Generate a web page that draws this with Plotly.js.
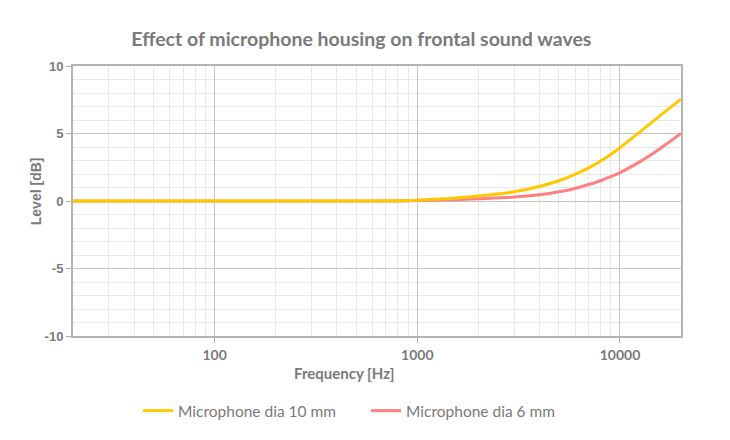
<!DOCTYPE html>
<html>
<head>
<meta charset="utf-8">
<script src="https://cdn.plot.ly/plotly-3.0.1.min.js"></script>
<style>
  html, body { margin: 0; padding: 0; background: #fff; }
  #chart { width: 730px; height: 440px; }
</style>
</head>
<body>
<div id="chart"></div>
<script>
// frequency response
var freqs = [20, 50, 100, 200, 500, 800, 1000, 1500, 2000, 3000, 4000, 5000, 6000, 7000, 8000, 9000, 10000, 12500, 16000, 20000];
var mic10 = [0, 0, 0, 0, 0, 0.01, 0.06, 0.2, 0.37, 0.68, 1.07, 1.5, 1.97, 2.45, 2.95, 3.45, 3.95, 5.1, 6.4, 7.55];
var mic6 = [0, 0, 0, 0, 0, 0, 0.03, 0.09, 0.17, 0.29, 0.46, 0.68, 0.93, 1.22, 1.5, 1.8, 2.1, 2.9, 3.95, 5.0];

var xTickVals = [100, 1000, 10000];
var xTickText = ['100', '1000', '10000'];
var yTickVals = [-10, -5, 0, 5, 10];
var yTickText = ['-10', '-5', '0', '5', '10'];

chart = document.getElementById('chart');

var grey = '#7a7a7a';

// 6 mm drawn first so the 10 mm line sits on top, legend keeps 10 mm first
Plotly.newPlot(chart, [{
    x: freqs,
    y: mic6,
    name: 'Microphone dia 6 mm',
    legendrank: 2,
    type: 'scatter',
    mode: 'lines',
    line: {color: '#ff8080', width: 3, shape: 'spline', smoothing: 0.6}
}, {
    x: freqs,
    y: mic10,
    name: 'Microphone dia 10 mm',
    legendrank: 1,
    type: 'scatter',
    mode: 'lines',
    line: {color: '#ffc800', width: 3, shape: 'spline', smoothing: 0.6}
}], {
    width: 730,
    height: 440,
    margin: {l: 73, r: 49, t: 66, b: 104},
    paper_bgcolor: '#fff',
    plot_bgcolor: '#fff',
    font: {family: 'Lato, sans-serif', color: grey},
    title: {
        text: '<b>Effect of microphone housing on frontal sound waves</b>',
        font: {family: 'Lato, sans-serif', size: 19.5, color: grey},
        x: 0.495, xanchor: 'center', y: 0.91, yanchor: 'middle'
    },
    xaxis: {
        type: 'log',
        range: [Math.log10(20), Math.log10(20000)],
        tickmode: 'array',
        tickvals: xTickVals,
        ticktext: xTickText,
        ticks: 'outside',
        ticklen: 5,
        tickcolor: '#aaa',
        tickfont: {family: 'Lato, sans-serif', size: 14, color: grey, weight: 'bold'},
        showgrid: true,
        gridcolor: '#c4c4c4',
        gridwidth: 1,
        minor: {dtick: 'D1', showgrid: true, gridcolor: '#e8e8e8', ticks: ''},
        showline: true,
        linecolor: '#b4b4b4',
        linewidth: 2,
        mirror: true,
        zeroline: false
    },
    yaxis: {
        range: [-10, 10],
        tickmode: 'array',
        tickvals: yTickVals,
        ticktext: yTickText,
        ticks: 'outside',
        ticklen: 5,
        tickcolor: '#aaa',
        tickfont: {family: 'Liberation Sans, Arial, sans-serif', size: 13, color: grey, weight: 'bold'},
        showgrid: true,
        gridcolor: '#c4c4c4',
        gridwidth: 1,
        minor: {dtick: 1, showgrid: true, gridcolor: '#e8e8e8', ticks: ''},
        showline: true,
        linecolor: '#b4b4b4',
        linewidth: 2,
        mirror: true,
        zeroline: false
    },
    // axis titles sit off-centre in the original, so placed as annotations
    annotations: [{
        text: '<b>Frequency [Hz]</b>',
        xref: 'paper', yref: 'paper',
        x: 0.4465, y: -0.137, xanchor: 'center', yanchor: 'middle',
        showarrow: false,
        font: {family: 'Lato, sans-serif', size: 15, color: grey}
    }, {
        text: '<b>Level [dB]</b>',
        xref: 'paper', yref: 'paper',
        x: -0.0605, y: 0.537, xanchor: 'center', yanchor: 'middle',
        textangle: -90,
        showarrow: false,
        font: {family: 'Liberation Sans, Arial, sans-serif', size: 14, color: grey}
    }],
    legend: {
        orientation: 'h',
        x: 0.482, xanchor: 'center',
        y: -0.215, yanchor: 'top',
        font: {family: 'Lato, sans-serif', size: 15.5, color: grey},
        itemwidth: 30,
        entrywidth: 183
    },
    showlegend: true
}, {displayModeBar: false});
</script>
</body>
</html>
